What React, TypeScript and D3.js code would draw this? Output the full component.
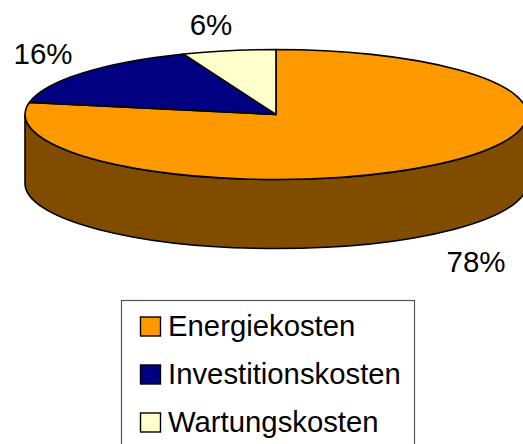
import React from "react";
import * as d3 from "d3";

const categories = ["Energiekosten", "Investitionskosten", "Wartungskosten"];
const shares = [78, 16, 6];
const colors = ["#FF9900", "#000080", "#FFFFCC"];
const sideColor = "#7F4C00";
const labels = ["78%", "16%", "6%"];
const labelPos: [number, number][] = [[476, 272], [43, 63.5], [211, 35]];

const W = 523, H = 444;
const cx = 276, cy = 114.5, rx = 251, ry = 65, depth = 69;
const FONT = "'Liberation Sans', Arial, sans-serif";

export default function App() {
  const pie = d3.pie<number>().sort(null).value((d) => d)(shares);
  const arc = d3.arc<d3.PieArcDatum<number>>().innerRadius(0).outerRadius(1);
  const side = `M${cx - rx},${cy} A${rx},${ry} 0 0 0 ${cx + rx},${cy} L${cx + rx},${cy + depth} A${rx},${ry} 0 0 1 ${cx - rx},${cy + depth} Z`;
  const legendY = d3.scalePoint<string>().domain(categories).range([326.5, 422.5]);
  return (
    <svg width={W} height={H} viewBox={`0 0 ${W} ${H}`} style={{ position: "absolute", left: 0, top: 0, background: "#fff" }}>
      <path d={side} fill={sideColor} stroke="#000" strokeWidth={1.6} />
      <g transform={`translate(${cx},${cy}) scale(${rx},${ry})`}>
        {pie.map((p, i) => (
          <path key={i} d={arc(p) as string} fill={colors[i]} stroke="#000" strokeWidth={1.6} strokeLinejoin="round" style={{ vectorEffect: "non-scaling-stroke" }} />
        ))}
      </g>
      {labels.map((t, i) => (
        <text key={t} x={labelPos[i][0]} y={labelPos[i][1]} textAnchor="middle" fontFamily={FONT} fontSize={29.5} fill="#000">{t}</text>
      ))}
      <rect x={121.5} y={300.5} width={293} height={160} fill="#fff" stroke="#555" strokeWidth={1.2} />
      {categories.map((c, i) => (
        <g key={c}>
          <rect x={140.5} y={(legendY(c) as number) - 9.5} width={20} height={19} fill={colors[i]} stroke="#000" strokeWidth={1.4} />
          <text x={168} y={(legendY(c) as number) + 9} fontFamily={FONT} fontSize={29.3} fill="#000">{c}</text>
        </g>
      ))}
    </svg>
  );
}
